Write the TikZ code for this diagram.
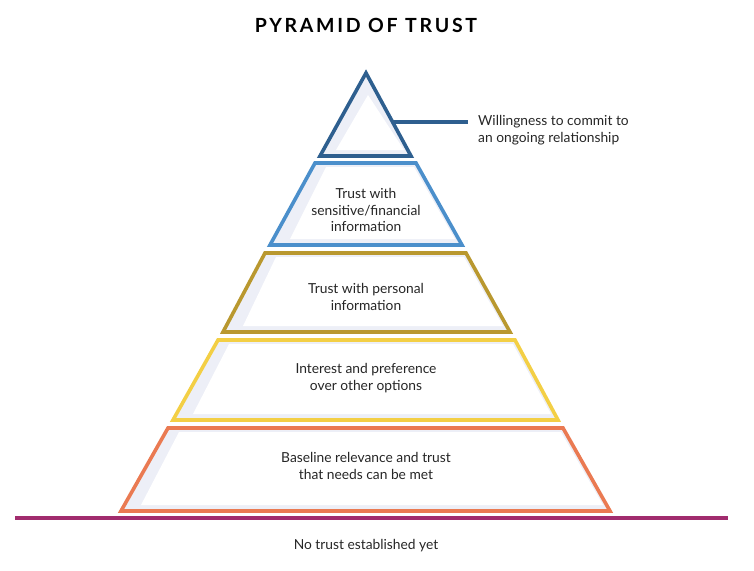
\documentclass[tikz,border=0pt]{standalone}
\usepackage{fontspec}
\setmainfont{Lato}
\usetikzlibrary{positioning}

\definecolor{navyblue}{HTML}{2E5F8F}
\definecolor{skyblue}{HTML}{4B8FCB}
\definecolor{oldgold}{HTML}{B9982F}
\definecolor{sunyellow}{HTML}{F3CF45}
\definecolor{coral}{HTML}{EA7A52}
\definecolor{plum}{HTML}{A12C6E}
\definecolor{haze}{HTML}{EDEFF7}

\begin{document}
\begin{tikzpicture}[x=1pt,y=-1pt,
	tier/.style={line width=3.6pt, line join=miter},
	tiertext/.style={font=\fontsize{13.8}{16.5}\selectfont, align=center, text=black!85, inner sep=0pt}]
	\useasboundingbox (0,0) rectangle (754,570);
	% title
	\node (title) at (366,25) {\fontsize{19.5}{22}\selectfont\bfseries\addfontfeatures{LetterSpace=14}PYRAMID OF TRUST};

	% apex
	\fill[haze] (366,73) -- (411,156) -- (320,156) -- cycle;
	\fill[white] (368,95) -- (404,150) -- (336,150) -- cycle;
	\draw[tier, navyblue] (366,73) -- (411,156) -- (320,156) -- cycle;

	% tiers
	\fill[haze] (315,163) -- (416,163) -- (462,245) -- (270,245) -- cycle;
	\fill[white] (326,167) -- (414,167) -- (455,239) -- (290,239) -- cycle;
	\draw[tier, skyblue] (315,163) -- (416,163) -- (462,245) -- (270,245) -- cycle;

	\fill[haze] (265,253) -- (466,253) -- (510,332) -- (223,332) -- cycle;
	\fill[white] (276,257) -- (464,257) -- (503,326) -- (243,326) -- cycle;
	\draw[tier, oldgold] (265,253) -- (466,253) -- (510,332) -- (223,332) -- cycle;

	\fill[haze] (218,340) -- (515,340) -- (558,420) -- (173,420) -- cycle;
	\fill[white] (229,344) -- (513,344) -- (551,414) -- (193,414) -- cycle;
	\draw[tier, sunyellow] (218,340) -- (515,340) -- (558,420) -- (173,420) -- cycle;

	\fill[haze] (168,428) -- (563,428) -- (610,511) -- (121,511) -- cycle;
	\fill[white] (179,432) -- (561,432) -- (603,505) -- (141,505) -- cycle;
	\draw[tier, coral] (168,428) -- (563,428) -- (610,511) -- (121,511) -- cycle;

	% labels
	\node[tiertext] (sensitive) at (366,210) {Trust with\\sensitive/financial\\information};
	\node[tiertext] (personal) at (366,297) {Trust with personal\\information};
	\node[tiertext] (interest) at (366,378) {Interest and preference\\over other options};
	\node[tiertext] (baseline) at (366,466) {Baseline relevance and trust\\that needs can be met};
	\node[tiertext, anchor=west, align=left] (willing) at (478,130) {Willingness to commit to\\an ongoing relationship};

	% ground line
	\coordinate (groundL) at (15,518);
	\coordinate (groundR) at (728,518);
	\draw[line width=3.6pt, plum] (groundL) -- (groundR);
	\node[tiertext] (notrust) at (366,546) {No trust established yet};

	% connector
	\coordinate (edge) at (392,122);
	\draw[line width=3.6pt, navyblue, shorten >=10pt] (edge) -- (edge -| willing.west);
\end{tikzpicture}
\end{document}
